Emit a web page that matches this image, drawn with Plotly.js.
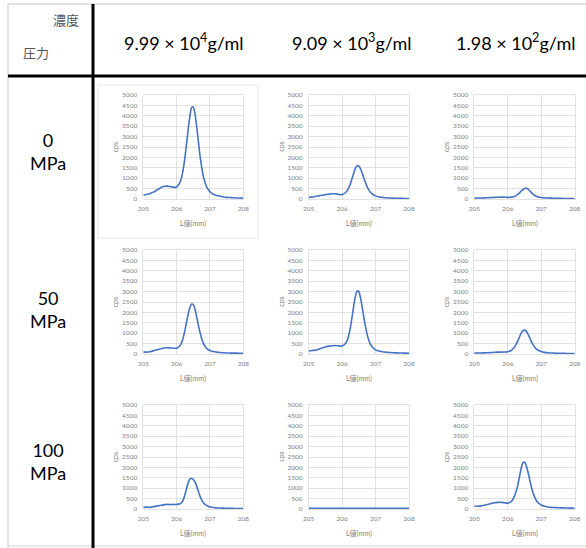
<!DOCTYPE html>
<html><head><meta charset="utf-8">
<script src="https://cdn.plot.ly/plotly-3.0.1.min.js"></script>
<style>html,body{margin:0;padding:0;background:#fff}#c{width:586px;height:548px}</style>
</head><body><div id="c"></div>
<script>
// ---- data ----
const pressureLabels = ['0<br>MPa', '50<br>MPa', '100<br>MPa'];
const concentrationLabels = ['9.99 × 10<sup>4</sup>g/ml', '9.09 × 10<sup>3</sup>g/ml', '1.98 × 10<sup>2</sup>g/ml'];
const xTickVals = [205, 206, 207, 208];
const yTickVals = [0, 500, 1000, 1500, 2000, 2500, 3000, 3500, 4000, 4500, 5000];
const xTitle = 'L値(mm)';
const yTitle = 'cps';

const xs = [205.0,205.1,205.2,205.3,205.4,205.5,205.6,205.7,205.8,205.9,206.0,206.1,206.15,206.2,206.25,206.3,206.35,206.4,206.45,206.5,206.55,206.6,206.65,206.7,206.75,206.8,206.85,206.9,207.0,207.1,207.2,207.3,207.4,207.5,207.6,207.7,207.8,207.9,208.0];

// 0 MPa
const cps_0MPa_c1 = [200,220,260,330,420,520,600,620,600,560,580,800,1050,1450,2000,2700,3400,4000,4400,4420,4100,3500,2800,2100,1550,1100,800,580,350,230,170,130,100,80,70,60,50,45,40];
const cps_0MPa_c2 = [80,100,120,150,180,210,230,250,250,220,210,300,400,550,750,1000,1250,1480,1600,1580,1450,1250,1000,780,580,430,320,240,150,100,80,60,50,40,35,30,30,25,25];
const cps_0MPa_c3 = [40,45,50,55,60,70,80,85,90,85,80,90,100,120,160,220,300,380,450,510,520,480,400,320,240,180,130,100,70,55,45,40,35,30,30,25,25,20,20];
// 50 MPa
const cps_50MPa_c1 = [100,90,110,150,200,240,290,300,290,280,280,400,550,800,1150,1550,1950,2250,2400,2380,2150,1800,1400,1050,750,520,370,270,170,120,90,70,60,50,45,40,40,35,35];
const cps_50MPa_c2 = [150,170,180,230,290,340,380,400,410,390,380,500,650,900,1300,1800,2350,2800,3030,3000,2700,2250,1750,1300,930,650,460,340,200,140,110,90,75,65,55,50,45,40,35];
const cps_50MPa_c3 = [40,45,50,55,60,70,80,90,90,95,110,170,240,330,470,630,820,1000,1110,1150,1100,970,800,620,460,340,250,190,120,80,60,50,40,35,30,30,25,25,20];
// 100 MPa
const cps_100MPa_c1 = [80,90,80,110,140,170,200,220,210,220,220,250,300,450,700,1000,1280,1450,1480,1420,1300,1100,850,620,440,310,220,160,100,70,55,45,40,35,30,30,25,25,20];
const cps_100MPa_c2 = [35,30,30,30,30,30,30,30,30,30,30,30,30,30,30,30,30,30,30,30,30,30,30,30,30,30,30,30,30,30,30,30,30,30,30,30,30,30,30];
const cps_100MPa_c3 = [130,130,150,180,220,260,300,320,320,300,280,350,450,620,850,1150,1550,1950,2220,2250,2100,1800,1450,1100,800,580,420,310,190,130,100,80,70,60,55,50,45,40,35];

const series = [
  [cps_0MPa_c1, cps_0MPa_c2, cps_0MPa_c3],
  [cps_50MPa_c1, cps_50MPa_c2, cps_50MPa_c3],
  [cps_100MPa_c1, cps_100MPa_c2, cps_100MPa_c3]
];

// ---- layout geometry (pixels) ----
const W = 586, H = 548;
const fx = x => x / W;
const fy = y => 1 - y / H;
const colL = [143.3, 308.7, 474.3];
const colR = [243.3, 409.0, 574.7];
const rowT = [95, 250, 405];
const rowB = [199, 354, 509];

const FONT = 'Lato, "Noto Sans CJK JP", sans-serif';
const traces = [];
const layout = {
  width: W, height: H,
  margin: {l: 0, r: 0, t: 0, b: 0},
  paper_bgcolor: '#ffffff', plot_bgcolor: '#ffffff',
  showlegend: false,
  font: {family: FONT},
  shapes: [], annotations: []
};

for (let r = 0; r < 3; r++) {
  for (let c = 0; c < 3; c++) {
    const k = r * 3 + c + 1;
    const sfx = (k === 1 ? '' : String(k));
    traces.push({
      x: xs, y: series[r][c], type: 'scatter', mode: 'lines',
      line: {color: '#4472C4', width: 1.6, shape: 'spline', smoothing: 0.6},
      xaxis: 'x' + sfx, yaxis: 'y' + sfx,
      hoverinfo: 'skip'
    });
    const common = {
      showgrid: true, gridcolor: '#D9D9D9', gridwidth: 0.8,
      showline: true, linecolor: '#D9D9D9', linewidth: 0.8, mirror: true,
      zeroline: false, ticks: '', fixedrange: true,
      tickfont: {size: 6.5, color: '#7f7f7f', family: FONT}
    };
    layout['xaxis' + sfx] = Object.assign({}, common, {
      domain: [fx(colL[c]), fx(colR[c])], range: [205, 208],
      tickvals: xTickVals, ticktext: xTickVals.map(String),
      anchor: 'y' + sfx, ticklabelstandoff: 3
    });
    layout['yaxis' + sfx] = Object.assign({}, common, {
      domain: [fy(rowB[r]), fy(rowT[r])], range: [0, 5000],
      tickvals: yTickVals, ticktext: yTickVals.map(String),
      anchor: 'x' + sfx, ticklabelstandoff: 4
    });
    // axis titles
    layout.annotations.push({
      xref: 'paper', yref: 'paper', x: fx(colL[c] - 28), y: fy((rowT[r] + rowB[r]) / 2),
      text: yTitle, textangle: -90, showarrow: false,
      font: {size: 7, color: '#7f7f7f', family: FONT}, xanchor: 'center', yanchor: 'middle'
    });
    layout.annotations.push({
      xref: 'paper', yref: 'paper', x: fx((colL[c] + colR[c]) / 2), y: fy(rowB[r] + 24),
      text: xTitle, showarrow: false,
      font: {size: 7, color: '#7f7f7f', family: FONT}, xanchor: 'center', yanchor: 'middle'
    });
  }
}

// table lines
const line = (x0, y0, x1, y1, color, w) => layout.shapes.push({
  type: 'line', xref: 'paper', yref: 'paper',
  x0: fx(x0), y0: fy(y0), x1: fx(x1), y1: fy(y1),
  line: {color: color, width: w}
});
line(8, 4, 586, 4, '#c8c8c8', 1);
line(8, 4, 8, 548, '#c8c8c8', 1);
line(8, 546, 586, 546, '#d0d0d0', 1);
line(93, 4, 93, 548, '#000000', 3);
line(8, 76, 586, 76, '#000000', 3);
// faint chart-area border of first chart
layout.shapes.push({type: 'rect', xref: 'paper', yref: 'paper',
  x0: fx(98), y0: fy(238), x1: fx(258), y1: fy(85),
  line: {color: '#e6e6e6', width: 1}, fillcolor: 'rgba(0,0,0,0)'});

// header texts
layout.annotations.push({xref: 'paper', yref: 'paper', x: fx(81), y: fy(20), text: '濃度',
  showarrow: false, xanchor: 'right', yanchor: 'middle', font: {size: 13, color: '#555555', family: '"Noto Sans CJK JP", sans-serif'}});
layout.annotations.push({xref: 'paper', yref: 'paper', x: fx(21), y: fy(52), text: '圧力',
  showarrow: false, xanchor: 'left', yanchor: 'middle', font: {size: 13, color: '#555555', family: '"Noto Sans CJK JP", sans-serif'}});
const headX = [183, 351, 515];
for (let c = 0; c < 3; c++) {
  layout.annotations.push({xref: 'paper', yref: 'paper', x: fx(headX[c]), y: fy(42),
    text: concentrationLabels[c], showarrow: false, xanchor: 'center', yanchor: 'middle',
    font: {size: 18, color: '#000000', family: FONT}});
}
const rowMid = [151, 309, 461];
for (let r = 0; r < 3; r++) {
  layout.annotations.push({xref: 'paper', yref: 'paper', x: fx(48), y: fy(rowMid[r]),
    text: pressureLabels[r], showarrow: false, xanchor: 'center', yanchor: 'middle',
    font: {size: 18, color: '#000000', family: FONT}});
}

Plotly.newPlot('c', traces, layout, {staticPlot: true, displayModeBar: false});
</script></body></html>
